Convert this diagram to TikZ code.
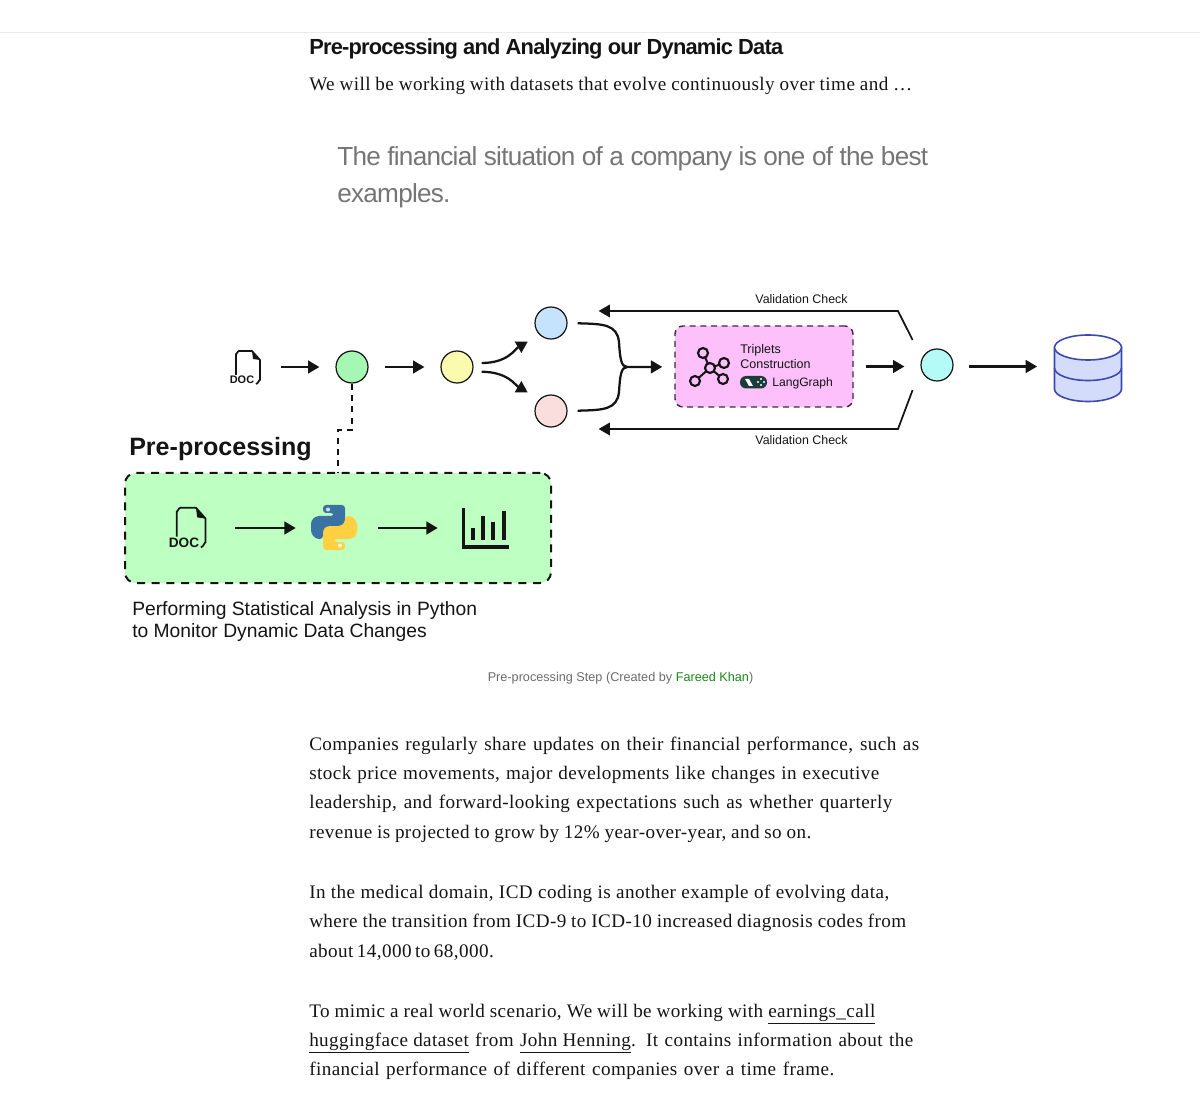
\documentclass[tikz,border=0pt]{standalone}
\usepackage{fontspec}
\usetikzlibrary{arrows.meta}
\setmainfont{Liberation Serif}
\setsansfont{Liberation Sans}
\newfontfamily\bodyface[LetterSpace=2.2]{Liberation Serif}
\newfontfamily\quoteface[LetterSpace=-2.8]{Liberation Sans}
\newfontfamily\titleface[LetterSpace=-3.7]{Liberation Sans}
\newcommand{\fitline}[2]{\makebox[\dimexpr #1*3/4\relax][s]{#2}}
\definecolor{inkblack}{HTML}{141414}
\definecolor{quotegray}{HTML}{757575}
\definecolor{capgray}{HTML}{6B6B6B}
\definecolor{capgreen}{HTML}{1A8917}
\definecolor{boxgreen}{HTML}{BEFFC2}
\definecolor{boxpink}{HTML}{FDC0FB}
\definecolor{dashpink}{HTML}{3C2A44}
\definecolor{dbblue}{HTML}{3F48B0}
\definecolor{dbfill}{HTML}{D3DDFB}
\definecolor{lgteal}{HTML}{1C3C3C}
\definecolor{pyblue}{HTML}{3A72A4}
\definecolor{pyyellow}{HTML}{FFD042}
\definecolor{stagegreen}{HTML}{A6F7B4}
\definecolor{stageyellow}{HTML}{FAFBAE}
\definecolor{stageblue}{HTML}{C5E3FD}
\definecolor{stagepink}{HTML}{FADEDE}
\definecolor{stagecyan}{HTML}{B4FBF7}
\tikzset{
  flow/.style={line width=1.7pt,inkblack,-{Triangle[length=8.5pt,width=9.5pt]},shorten <=12pt,shorten >=12pt},
  stage/.style={circle,draw=inkblack,line width=.9pt,minimum size=24pt,inner sep=0pt},
  iconbox/.style={minimum size=#1,inner sep=0pt},
  bodyline/.style={anchor=base west,inner sep=0pt,font=\bodyface\fontsize{14.35pt}{16pt}\selectfont,text=inkblack},
  sansline/.style={anchor=base west,inner sep=0pt,font=\sffamily\fontsize{#1}{#1}\selectfont,text=inkblack},
  checklabel/.style={inner sep=0pt,font=\sffamily\fontsize{9.3pt}{10pt}\selectfont,text=inkblack},
  pics/docicon/.style={code={
    \draw[line width=1.3pt,inkblack,line join=round] (-11,8) -- (-11,-13) to[out=-90,in=180] (-8,-16) -- (5,-16) -- (13,-7) -- (13,13) to[out=90,in=0] (9,17);
    \fill[inkblack] (5,-16) -- (13,-7) -- (6,-8) -- cycle;
    \node[inner sep=0pt,font=\sffamily\bfseries\fontsize{#1}{#1}\selectfont,text=inkblack] at (-5,13) {DOC};
  }},
  pics/pysnake/.style={code={
    \fill[#1,rounded corners=2.4pt] (-11,-22.5) -- (11,-22.5) -- (11,-2) -- (7,1.5) -- (-7,1.5) -- (-11,5) -- (-11,11.5) -- (-18,11.5) -- (-23,6) -- (-23,-7) -- (-18,-11.5) -- (0,-11.5) -- (0,-14.5) -- (-11,-14.5) -- cycle;
    \fill[white!80!#1] (-6,-18) circle (2);
  }},
}
\begin{document}
\begin{tikzpicture}[x=0.75pt,y=-0.75pt]
  \useasboundingbox (0,0) rectangle (1200,1105);
  \draw[black!8,line width=.75pt] (0,32.5) -- (1200,32.5);

  \node[sansline=16.4pt,font=\titleface\bfseries\fontsize{16.4pt}{18pt}\selectfont] (title) at (309,55) {Pre-processing and Analyzing our Dynamic Data};
  \node[bodyline] (introline) at (309,91) {\fitline{603pt}{We will be working with datasets that evolve continuously over time and \dots}};
  \node[sansline=19.6pt,font=\quoteface\fontsize{19.6pt}{22pt}\selectfont,text=quotegray] (quoteA) at (337,166) {The financial situation of a company is one of the best};
  \node[sansline=19.6pt,font=\quoteface\fontsize{19.6pt}{22pt}\selectfont,text=quotegray] (quoteB) at (337,203) {examples.};

  % top row
  \pic at (247,367) {docicon=8.2pt};
  \node[iconbox=27pt] (docA) at (247,367) {};
  \node[stage,fill=stagegreen] (clean) at (352,367) {};
  \node[stage,fill=stageyellow] (sorted) at (457,367) {};
  \node[stage,fill=stageblue] (upper) at (551,323) {};
  \node[stage,fill=stagepink] (lower) at (551,411) {};
  \node[stage,fill=stagecyan] (merged) at (937,365) {};
  \coordinate (join) at (627,367);
  \coordinate (topbend) at (898,311);
  \coordinate (lowbend) at (898,429);

  \node[draw=dashpink,fill=boxpink,line width=1.1pt,dash pattern=on 4.5pt off 3.5pt,rounded corners=6pt,minimum width=133.5pt,minimum height=60.75pt,inner sep=0pt] (triplets) at (764,366.5) {};
  \foreach \nx/\ny in {703/353,724/363,723/379,695/381}
    \draw[inkblack,line width=1.5pt] (710,368) -- (\nx,\ny);
  \foreach \nx/\ny in {703/353,724/363,723/379,695/381}
    \filldraw[draw=inkblack,fill=boxpink,line width=1.6pt] (\nx,\ny) circle (5);
  \filldraw[draw=inkblack,fill=boxpink,line width=1.6pt] (710,368) circle (5);
  \node[sansline=9.4pt] (tripA) at (740,354) {Triplets};
  \node[sansline=9.4pt] (tripB) at (740,369) {Construction};
  \fill[lgteal,rounded corners=4.5pt] (740,376) rectangle (767,388.5);
  \fill[white] (745,379) -- (749,379) -- (753,386) -- (749,386) -- cycle;
  \foreach \nx/\ny in {758/382,761/379,761/385,764/382}
    \fill[white] (\nx,\ny) circle (1.1);
  \node[sansline=9.1pt] (lglabel) at (772,387) {LangGraph};

  \draw[flow] (docA) -- (clean);
  \draw[flow] (clean) -- (sorted);
  \draw[flow,shorten <=6pt,shorten >=10pt] ([yshift=3pt]sorted.east) .. controls (508,363) and (515,349) .. (upper.south west);
  \draw[flow,shorten <=6pt,shorten >=10pt] ([yshift=-3.5pt]sorted.east) .. controls (508,372) and (515,385) .. (lower.north west);
  \draw[line width=1.7pt,inkblack,shorten <=7.5pt] (upper.east) .. controls (603,324) and (617,324) .. (619,342) .. controls (620,358) and (621,367) .. (join);
  \draw[line width=1.7pt,inkblack,shorten <=7.5pt] (lower.east) .. controls (603,410) and (617,410) .. (619,392) .. controls (620,376) and (621,367) .. (join);
  \draw[flow,shorten <=0pt,shorten >=9pt] (join) -- (triplets);
  \draw[flow,shorten <=9pt] (triplets.east) -- (merged.west |- triplets.east);

  \draw[flow,line width=1.3pt,shorten <=0pt,shorten >=23.25pt] ([xshift=-9.5pt,yshift=10pt]merged.north west) -- (topbend) -- (topbend -| upper.east);
  \draw[flow,line width=1.3pt,shorten <=0pt,shorten >=23.25pt] ([xshift=-9.5pt,yshift=-10pt]merged.south west) -- (lowbend) -- (lowbend -| lower.east);
  \node[checklabel] (checkA) at (801.5,299.5) {Validation Check};
  \node[checklabel] (checkB) at (801.5,440.5) {Validation Check};

  % database
  \node[iconbox=50pt] (store) at (1088,368) {};
  \filldraw[draw=dbblue,fill=dbfill,line width=1.2pt] (1054.5,347.5) -- (1054.5,389) arc[start angle=180,end angle=360,x radius=33.5,y radius=-12.5] -- (1121.5,347.5) -- cycle;
  \draw[dbblue,line width=1.2pt] (1054.5,368) arc[start angle=180,end angle=360,x radius=33.5,y radius=-12.5];
  \filldraw[draw=dbblue,fill=white,line width=1.2pt] (1088,347.5) ellipse [x radius=33.5,y radius=12.5];
  \draw[flow,shorten <=11.25pt,shorten >=13pt] (merged.east |- triplets.east) -- (store.west |- triplets.east);

  % pre-processing block
  \node[sansline=18.8pt,font=\sffamily\bfseries\fontsize{18.8pt}{22pt}\selectfont] (preTitle) at (129,456) {Pre-processing};
  \node[draw=inkblack,fill=boxgreen,line width=1.5pt,dash pattern=on 6pt off 5pt,rounded corners=8pt,minimum width=319.5pt,minimum height=82.5pt,inner sep=0pt] (preBox) at (338,528) {};
  \draw[inkblack,line width=.8pt,dash pattern=on 4.5pt off 4pt] (clean.south) -- (352,430) -- (338,430) -- (preBox.north);

  \pic[scale=1.2] at (190,527) {docicon=10.2pt};
  \node[iconbox=45pt] (docB) at (189,528) {};
  \pic at (334,527.5) {pysnake=pyblue};
  \pic[rotate=180] at (334,527.5) {pysnake=pyyellow};
  \node[iconbox=31.5pt] (python) at (333,528) {};
  \node[iconbox=48pt] (chart) at (486,528) {};
  \draw[line width=2.6pt,inkblack] (463.5,508) -- (463.5,547) -- (509,547);
  \draw[line width=3pt,inkblack] (472.5,540) -- (472.5,528) (482.5,540) -- (482.5,516) (493,540) -- (493,522) (503.5,540) -- (503.5,511);
  \draw[flow] (docB) -- (python);
  \draw[flow,shorten <=18pt] (python) -- (chart);

  \node[sansline=14.45pt] (noteA) at (132,615) {Performing Statistical Analysis in Python};
  \node[sansline=14.45pt] (noteB) at (132,637) {to Monitor Dynamic Data Changes};
  \node[inner sep=0pt,font=\sffamily\fontsize{9.5pt}{12pt}\selectfont,text=capgray] (caption) at (620.5,678) {Pre-processing Step (Created by \textcolor{capgreen}{Fareed Khan})};

  % article text
  \node[bodyline] (lineA) at (309,750) {\fitline{610pt}{Companies regularly share updates on their financial performance, such as}};
  \node[bodyline] (lineB) at (309,779) {\fitline{570pt}{stock price movements, major developments like changes in executive}};
  \node[bodyline] (lineC) at (309,808) {\fitline{583pt}{leadership, and forward-looking expectations such as whether quarterly}};
  \node[bodyline] (lineD) at (309,838) {\fitline{502pt}{revenue is projected to grow by 12\% year-over-year, and so on.}};
  \node[bodyline] (lineE) at (309,898) {\fitline{580pt}{In the medical domain, ICD coding is another example of evolving data,}};
  \node[bodyline] (lineF) at (309,927) {\fitline{597pt}{where the transition from ICD-9 to ICD-10 increased diagnosis codes from}};
  \node[bodyline] (lineG) at (309,957) {\fitline{182pt}{about 14,000 to 68,000.}};
  \node[bodyline] (lineH) at (309,1017) {\fitline{566pt}{To mimic a real world scenario, We will be working with \underline{earnings\_call}}};
  \node[bodyline] (lineI) at (309,1046) {\fitline{604pt}{\underline{huggingface dataset} from \underline{John Henning}. It contains information about the}};
  \node[bodyline] (lineJ) at (309,1075) {\fitline{525pt}{financial performance of different companies over a time frame.}};
\end{tikzpicture}
\end{document}
